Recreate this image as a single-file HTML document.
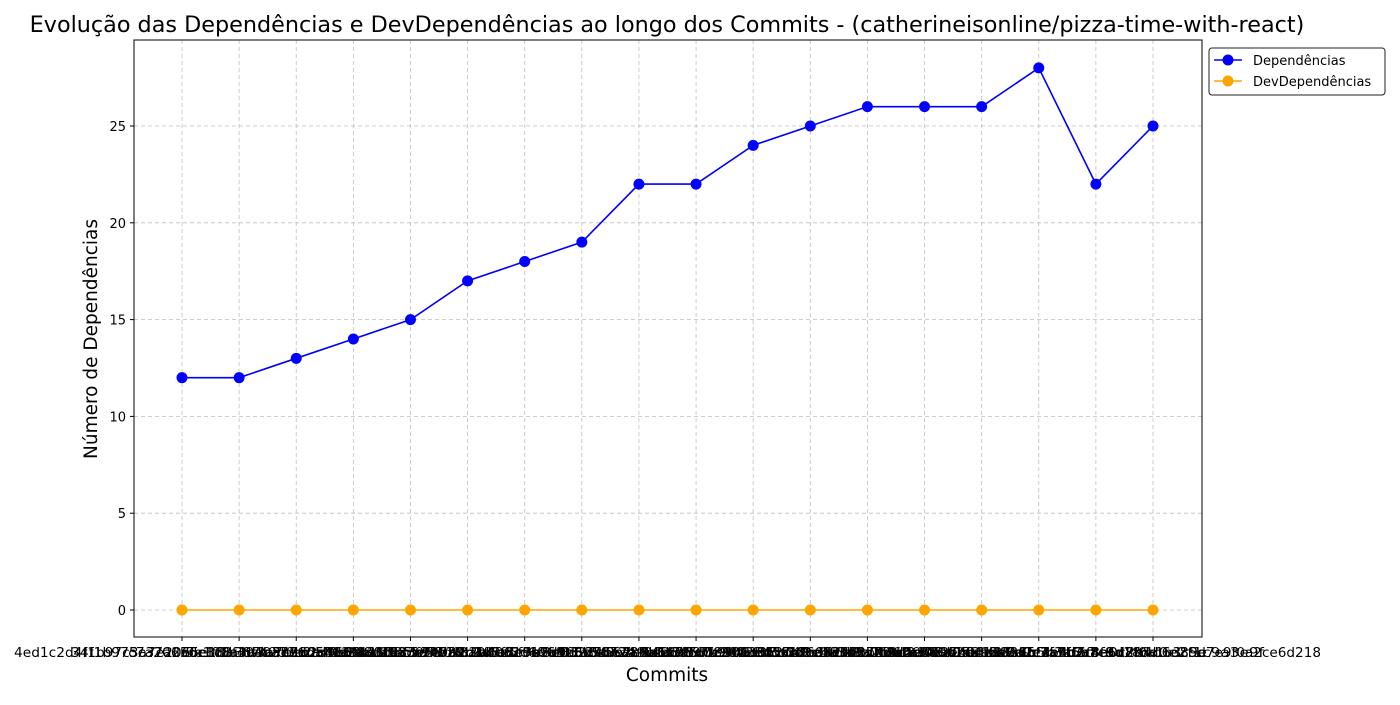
<!DOCTYPE html>
<html><head><meta charset="utf-8"><style>
body{margin:0;background:#fff;}
svg text{font-family:"DejaVu Sans","Liberation Sans",sans-serif;}
</style></head><body>
<svg width="1400" height="700" xmlns="http://www.w3.org/2000/svg">
<rect width="1400" height="700" fill="#fff"/>
<text x="667" y="32" font-size="22.3" text-anchor="middle">Evolução das Dependências e DevDependências ao longo dos Commits - (catherineisonline/pizza-time-with-react)</text>
<g id="grid"></g>
<g id="axes"></g>
<g id="series"></g>
<text x="667" y="681" font-size="18.5" text-anchor="middle">Commits</text>
<text transform="translate(97,339) rotate(-90)" font-size="18.5" text-anchor="middle">Número de Dependências</text>
<g>
<rect x="1209" y="48" width="176" height="47" rx="3" fill="#fff" stroke="#222"/>
<line x1="1214" y1="60" x2="1242" y2="60" stroke="blue" stroke-width="1.5"/>
<circle cx="1228" cy="60" r="5.5" fill="blue"/>
<text x="1253" y="65" font-size="13">Dependências</text>
<line x1="1214" y1="81" x2="1242" y2="81" stroke="orange" stroke-width="1.5"/>
<circle cx="1228" cy="81" r="5.5" fill="orange"/>
<text x="1253" y="86" font-size="13">DevDependências</text>
</g>
</svg>
<script>
const commits=["4ed1c2d4f1b97c3a7e2065e1f8a3d7c5b9e0a412","34f1b975c37a2e6c1d8f49ab3e7d05c6a9b21f88","c7a2065de8f1b3c49a7e6d5f0b2a8c1e3d9f4b70","5e1f8a3d7c9b0e2a4f6d8c1b3e5a7f9d0c2b4e61","8f3a7b1c2d9e0f4a6b8c5d7e1f3a9b0c2d4e6f83","b2c4e6f8a0d1c3e5f7a9b1d3e5f7a9c1e3b5d724","1d3f5a7c9e0b2d4f6a8c0e2b4d6f8a0c2e4b6d95","e7c9a1b3d5f7e9c1a3b5d7f9e1c3a5b7d9f1e306","9a1c3e5b7d9f1a3c5e7b9d1f3a5c7e9b1d3f5a17","6f8e0d2c4b6a8f0e2d4c6b8a0f2e4d6c8b0a2f48","3c5e7a9b1d3f5c7e9a1b3d5f7c9e1a3b5d7f9c29","a4b6c8d0e2f4a6b8c0d2e4f6a8b0c2d4e6f8a05a","7e9f1a3b5c7d9e1f3a5b7c9d1e3f5a7b9c1d3e6b","0b2d4f6a8c0e2b4d6f8a0c2e4b6d8f0a2c4e6b7c","d5e7f9a1b3c5d7e9f1a3b5c7d9e1f3a5b7c9d18d","2f4a6c8e0b2d4f6a8c0e2b4d6f8a0c2e4b6d89e","8b6c0f9a0e1c5b7f6a8f8d7f6d0e2f1c9a3e9f","c1e3d5f7a9b2c4e6d8f0a1b3c5d7e9f0a2ce6d218"];
const deps=[12,12,13,14,15,17,18,19,22,22,24,25,26,26,26,28,22,25];
const devDeps=[0,0,0,0,0,0,0,0,0,0,0,0,0,0,0,0,0,0];
const yTicks=[0,5,10,15,20,25];
const NS="http://www.w3.org/2000/svg";
const L=134,R=1202,T=40,B=637;
const x=i=>182+i*(1153-182)/(commits.length-1);
const y=v=>610-v*(610-126)/25;
function mk(tag,attrs,parent,txt){const e=document.createElementNS(NS,tag);for(const k in attrs)e.setAttribute(k,attrs[k]);if(txt!==undefined)e.textContent=txt;parent.appendChild(e);return e;}
const grid=document.getElementById('grid'),axes=document.getElementById('axes'),ser=document.getElementById('series');
commits.forEach((c,i)=>{
 mk('line',{x1:x(i),x2:x(i),y1:T,y2:B,stroke:'#b0b0b0','stroke-dasharray':'4,3','stroke-width':0.8,opacity:0.8},grid);
 mk('line',{x1:x(i),x2:x(i),y1:B,y2:B+4,stroke:'#000'},axes);
 const t=mk('text',{x:x(i),y:B+20,'font-size':13,'text-anchor':'middle',textLength:336,lengthAdjust:'spacingAndGlyphs'},axes,c);
 
 
});
yTicks.forEach(v=>{
 mk('line',{x1:L,x2:R,y1:y(v),y2:y(v),stroke:'#b0b0b0','stroke-dasharray':'4,3','stroke-width':0.8,opacity:0.8},grid);
 mk('line',{x1:L-4,x2:L,y1:y(v),y2:y(v),stroke:'#000'},axes);
 const t=mk('text',{x:L-8,y:y(v)+5,'font-size':13,'text-anchor':'end'},axes,v);
 
 
});
const frame=mk('rect',{x:L,y:T,width:R-L,height:B-T,fill:'none',stroke:'#000','stroke-width':1},axes);


function drawSeries(vals,color,name){
 const p=mk('polyline',{points:vals.map((v,i)=>x(i)+','+y(v)).join(' '),fill:'none',stroke:color,'stroke-width':1.6},ser);
 
 
 vals.forEach((v,i)=>{
  const c=mk('circle',{cx:x(i),cy:y(v),r:5.5,fill:color},ser);
  
  
 });
}
drawSeries(deps,'blue','dependencias');
drawSeries(devDeps,'orange','devdependencias');
</script>
</body></html>
